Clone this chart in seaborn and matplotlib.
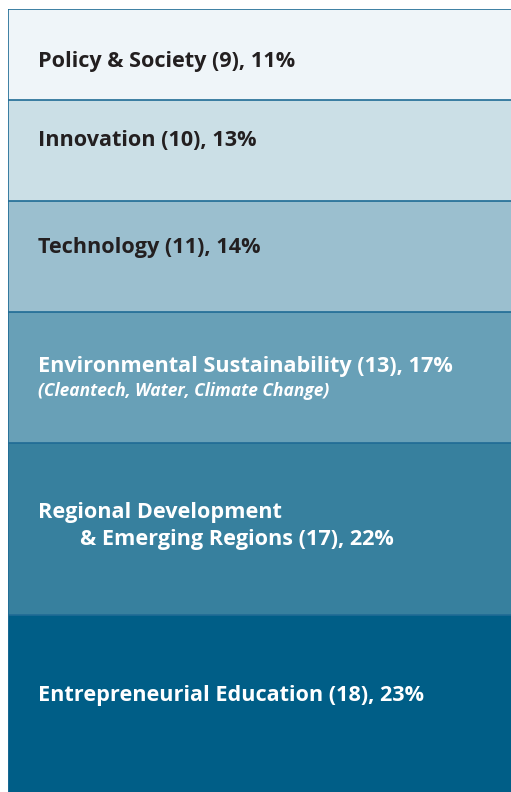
import matplotlib
matplotlib.use("Agg")
import matplotlib.pyplot as plt
import matplotlib.transforms as mtransforms
import seaborn as sns
import pandas as pd
import numpy as np

categories = ["Policy & Society", "Innovation", "Technology",
              "Environmental Sustainability", "Regional Development\n& Emerging Regions",
              "Entrepreneurial Education"]
counts = [9, 10, 11, 13, 17, 18]
percents = [11, 13, 14, 17, 22, 23]
subtitles = ["", "", "", "(Cleantech, Water, Climate Change)", "", ""]
colors = ["#eff5f9", "#cbdfe6", "#9bbfcf", "#68a0b7", "#37809e", "#005e87"]
text_colors = ["#231f20", "#231f20", "#231f20", "white", "white", "white"]

sns.set_theme(style="white")
plt.rcParams["font.family"] = ["Open Sans", "DejaVu Sans"]

W, H = 511, 792
fig = plt.figure(figsize=(W / 100, H / 100), dpi=100)
fig.patch.set_facecolor("white")
total = sum(counts)
px_per_unit = 788 / total
left_px, top_px = 8, 9
ax = fig.add_axes([left_px / W, 1 - (top_px + total * px_per_unit) / H,
                   (W - left_px + 5) / W, total * px_per_unit / H])

cum = np.cumsum(counts)
df = pd.DataFrame({"grp": ["all"] * len(counts), "cum": cum, "cat": categories})
for i in range(len(counts) - 1, -1, -1):
    sns.barplot(data=df.iloc[[i]], x="grp", y="cum", color=colors[i], width=1.0,
                saturation=1, edgecolor="#1f6b95", linewidth=1.2, ax=ax)

ax.set_xlim(-0.5, 0.5)
ax.set_ylim(total, 0)
ax.axis("off")

trans = mtransforms.blended_transform_factory(ax.transAxes, ax.transData)
axw = (W - left_px + 5)
text_x = (38 - left_px) / axw
# baseline offsets (px from each segment top)
main_off = [58, 46.5, 52.5, 60, 74.5, 86]
fs = 15.6
starts = np.concatenate([[0], cum[:-1]])
for i, cat in enumerate(categories):
    y0 = starts[i]
    if "\n" in cat:
        l1, l2 = cat.split("\n")
        ax.text(text_x, y0 + main_off[i] / px_per_unit, l1, transform=trans,
                ha="left", va="baseline", fontsize=fs, fontweight="bold", color=text_colors[i])
        ax.text(text_x + 42 / axw, y0 + (main_off[i] + 27) / px_per_unit,
                f"{l2} ({counts[i]}), {percents[i]}%", transform=trans,
                ha="left", va="baseline", fontsize=fs, fontweight="bold", color=text_colors[i])
    else:
        ax.text(text_x, y0 + main_off[i] / px_per_unit, f"{cat} ({counts[i]}), {percents[i]}%",
                transform=trans, ha="left", va="baseline", fontsize=fs, fontweight="bold",
                color=text_colors[i])
    if subtitles[i]:
        ax.text(text_x, y0 + (main_off[i] + 23.5) / px_per_unit, subtitles[i], transform=trans,
                ha="left", va="baseline", fontsize=12.5, fontweight="bold", fontstyle="italic",
                color=text_colors[i])

fig.savefig("out.png", dpi=100)
